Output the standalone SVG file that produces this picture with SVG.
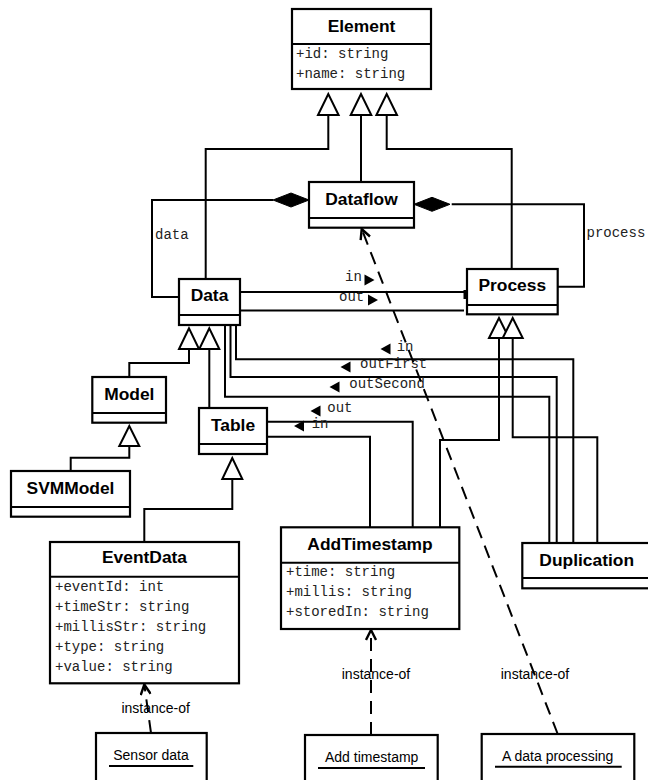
<svg xmlns="http://www.w3.org/2000/svg" width="648" height="780" viewBox="0 0 648 780">
<style>
.box{fill:#fff;stroke:#000;stroke-width:2.2}
.ln{fill:none;stroke:#000;stroke-width:2}
.gen{fill:#fff;stroke:#000;stroke-width:2}
.dia{fill:#000;stroke:#000;stroke-width:1}
.dash{fill:none;stroke:#000;stroke-width:2;stroke-dasharray:13,8}
.t{font-family:"Liberation Sans",Arial,sans-serif;font-weight:bold;font-size:17.4px;text-anchor:middle;fill:#000}
.a{font-family:"Liberation Mono","Courier New",monospace;font-size:14px;fill:#222}
.i{font-family:"Liberation Sans",Arial,sans-serif;font-size:14px;fill:#000;text-anchor:middle}
.ar{fill:#000}
</style>
<defs>
<marker id="open" viewBox="0 0 12 12" refX="11" refY="6" markerWidth="12" markerHeight="12" markerUnits="userSpaceOnUse" orient="auto">
<path d="M1,1 L11,6 L1,11" fill="none" stroke="#000" stroke-width="2.4"/>
</marker>
</defs>
<rect width="648" height="780" fill="#fff"/>

<g id="connectors">
<polyline class="ln" points="328.3,115 328.3,149 205.7,149 205.7,279"/>
<polyline class="ln" points="361,115 361,182"/>
<polyline class="ln" points="386.7,115 386.7,149 511.7,149 511.7,269"/>
<polygon class="gen" points="328.3,94 318,115 338.6,115"/>
<polygon class="gen" points="361,94 350.7,115 371.3,115"/>
<polygon class="gen" points="386.7,94 376.4,115 397,115"/>
<polyline class="ln" points="273,200 152,200 152,297 179,297"/>
<polygon class="dia" points="309,200 291,193 273,200 291,207"/>
<text class="a" x="155" y="239">data</text>
<polyline class="ln" points="451.7,204.3 584,204.3 584,286.7 557.7,286.7"/>
<polygon class="dia" points="414,204.3 432,197.3 450,204.3 432,211.3"/>
<text class="a" x="586.5" y="237">process</text>
<line class="ln" x1="240" y1="292" x2="467" y2="292"/>
<line class="ln" x1="240" y1="310.5" x2="464" y2="310.5"/>
<rect x="463.5" y="290" width="3.5" height="9" fill="#000"/>
<text class="a" x="345" y="281">in</text>
<polygon class="ar" points="364.5,274.5 374.5,280 364.5,285.5"/>
<text class="a" x="339" y="300.5">out</text>
<polygon class="ar" points="368,294.5 378,300 368,305.5"/>
<polyline class="ln" points="189,349 189,363 129.3,363 129.3,377"/>
<polyline class="ln" points="209.3,349 209.3,408"/>
<polygon class="gen" points="189,328.3 179,349 199,349"/>
<polygon class="gen" points="209.3,328.3 199.3,349 219.3,349"/>
<polyline class="ln" points="129.3,446 129.3,457.7 70.7,457.7 70.7,471"/>
<polygon class="gen" points="129.3,426 119.3,446 139.3,446"/>
<polyline class="ln" points="232.3,479 232.3,509 144.3,509 144.3,542"/>
<polygon class="gen" points="232.3,458 222.3,479 242.3,479"/>
<polyline class="ln" points="236,325 236,359.3 573.3,359.3 573.3,543"/>
<polyline class="ln" points="230.5,325 230.5,377 556.7,377 556.7,543"/>
<polyline class="ln" points="225,325 225,396.7 549.3,396.7 549.3,543"/>
<polyline class="ln" points="267,421.7 412.7,421.7 412.7,527"/>
<polyline class="ln" points="267,436.7 370,436.7 370,527"/>
<polyline class="ln" points="499,338 499,440 440,440 440,527"/>
<polyline class="ln" points="512.7,338 512.7,437.3 597.3,437.3 597.3,543"/>
<polygon class="gen" points="499,318 489,338 509,338"/>
<polygon class="gen" points="512.7,318 502.7,338 522.7,338"/>
<text class="a" x="396.7" y="350.5">in</text>
<polygon class="ar" points="390.5,343.5 380.5,349 390.5,354.5"/>
<text class="a" x="360" y="367.5">outFirst</text>
<polygon class="ar" points="350.5,361.5 340.5,367 350.5,372.5"/>
<text class="a" x="349.3" y="387.5">outSecond</text>
<polygon class="ar" points="339.5,381.5 329.5,387 339.5,392.5"/>
<text class="a" x="327.3" y="412">out</text>
<polygon class="ar" points="320.5,405.5 310.5,411 320.5,416.5"/>
<text class="a" x="311.7" y="427.5">in</text>
<polygon class="ar" points="304,420.5 294,426 304,431.5"/>
<line class="dash" x1="557.7" y1="734" x2="361.7" y2="229" marker-end="url(#open)"/>
<line class="dash" x1="371" y1="735" x2="371" y2="630" marker-end="url(#open)"/>
<line class="dash" x1="151" y1="733" x2="144.3" y2="684.5" marker-end="url(#open)"/>
<text class="i" x="535" y="679">instance-of</text>
<text class="i" x="376" y="679">instance-of</text>
<text class="i" x="155.7" y="713">instance-of</text>
</g>

<g id="Element">
<rect class="box" x="292" y="9" width="139" height="80"/>
<line class="ln" x1="292" y1="44" x2="431" y2="44"/>
<text class="t" x="361.5" y="31.5">Element</text>
<text class="a" x="296" y="57.5">+id: string</text>
<text class="a" x="296" y="77.5">+name: string</text>
</g>

<g id="Dataflow">
<rect class="box" x="309" y="182" width="105" height="45.7"/>
<line class="ln" x1="309" y1="218" x2="414" y2="218"/>
<text class="t" x="361.5" y="204.5">Dataflow</text>
</g>

<g id="Data">
<rect class="box" x="179" y="279" width="61" height="46"/>
<line class="ln" x1="179" y1="315" x2="240" y2="315"/>
<text class="t" x="209.5" y="301">Data</text>
</g>

<g id="Process">
<rect class="box" x="467" y="269" width="90.7" height="45.3"/>
<line class="ln" x1="467" y1="305" x2="557.7" y2="305"/>
<text class="t" x="512.3" y="291">Process</text>
</g>

<g id="Model">
<rect class="box" x="92.3" y="377" width="73.7" height="45.7"/>
<line class="ln" x1="92.3" y1="413" x2="166" y2="413"/>
<text class="t" x="129.3" y="399.5">Model</text>
</g>

<g id="Table">
<rect class="box" x="199" y="408" width="68" height="46"/>
<line class="ln" x1="199" y1="444" x2="267" y2="444"/>
<text class="t" x="233" y="431">Table</text>
</g>

<g id="SVMModel">
<rect class="box" x="11" y="471" width="119" height="45.7"/>
<line class="ln" x1="11" y1="507" x2="130" y2="507"/>
<text class="t" x="70.5" y="493.5">SVMModel</text>
</g>

<g id="EventData">
<rect class="box" x="50" y="542" width="189" height="141.3"/>
<line class="ln" x1="50" y1="576.7" x2="239" y2="576.7"/>
<text class="t" x="144.5" y="563">EventData</text>
<text class="a" x="55" y="590.5">+eventId: int</text>
<text class="a" x="55" y="610.5">+timeStr: string</text>
<text class="a" x="55" y="630.5">+millisStr: string</text>
<text class="a" x="55" y="650.5">+type: string</text>
<text class="a" x="55" y="670.5">+value: string</text>
</g>

<g id="AddTimestamp">
<rect class="box" x="281" y="527.3" width="178.3" height="101.7"/>
<line class="ln" x1="281" y1="562.7" x2="459.3" y2="562.7"/>
<text class="t" x="370" y="550">AddTimestamp</text>
<text class="a" x="286" y="576">+time: string</text>
<text class="a" x="286" y="596">+millis: string</text>
<text class="a" x="286" y="616">+storedIn: string</text>
</g>

<g id="Duplication">
<rect class="box" x="522.3" y="543" width="130" height="45.3"/>
<line class="ln" x1="522.3" y1="578" x2="652" y2="578"/>
<text class="t" x="586.7" y="565.5">Duplication</text>
</g>

<g id="SensorData">
<rect class="box" x="96" y="733" width="110.7" height="52"/>
<text class="i" x="151" y="760">Sensor data</text>
<line class="ln" x1="109" y1="766" x2="193.3" y2="766"/>
</g>

<g id="AddTimestampInstance">
<rect class="box" x="305" y="735" width="132.7" height="50"/>
<text class="i" x="371.7" y="762">Add timestamp</text>
<line class="ln" x1="318" y1="768" x2="425" y2="768"/>
</g>

<g id="DataProcessingInstance">
<rect class="box" x="481.7" y="734" width="152.6" height="51"/>
<text class="i" x="557.7" y="761">A data processing</text>
<line class="ln" x1="495" y1="766.7" x2="621.7" y2="766.7"/>
</g>
</svg>
